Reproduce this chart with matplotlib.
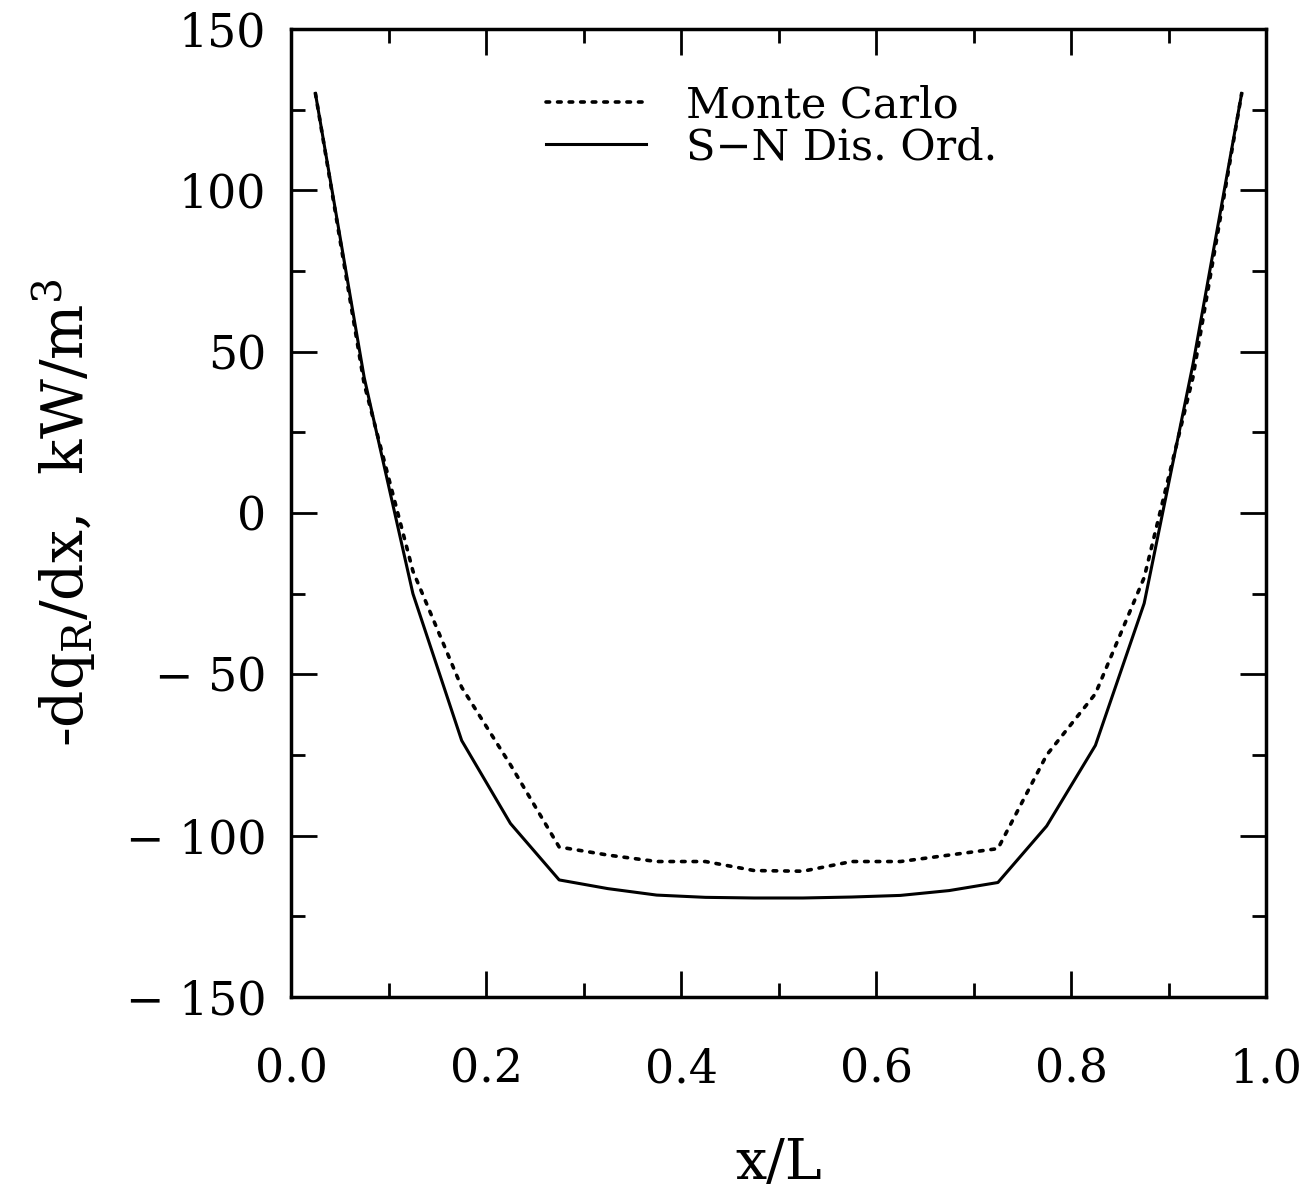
import numpy as np
import matplotlib
matplotlib.use("Agg")
import matplotlib.pyplot as plt
from matplotlib.ticker import MultipleLocator

# cell centres x/L
x_pos = [0.025, 0.075, 0.125, 0.175, 0.225, 0.275, 0.325, 0.375, 0.425, 0.475,
         0.525, 0.575, 0.625, 0.675, 0.725, 0.775, 0.825, 0.875, 0.925, 0.975]
# Monte Carlo (dotted)
mc = [130, 40, -18, -54, -78, -103.5, -106, -108, -108, -110.8,
      -111, -108, -108, -106, -104, -75, -56, -20, 42, 130]
# S-N discrete ordinates (solid)
sn = [130, 42, -25, -70.5, -96.2, -113.7, -116.4, -118.4, -119.1, -119.3,
      -119.3, -119, -118.5, -117, -114.5, -97, -72, -28, 46, 130]

xticks = [0.0, 0.2, 0.4, 0.6, 0.8, 1.0]
xtick_labels = ["0.0", "0.2", "0.4", "0.6", "0.8", "1.0"]
yticks = [150, 100, 50, 0, -50, -100, -150]
ytick_labels = ["150", "100", "50", "0", "\u2212 50", "\u2212 100", "\u2212 150"]

plt.rcParams['font.family'] = ['DejaVu Serif']
plt.rcParams['mathtext.fontset'] = 'dejavuserif'

fig = plt.figure(figsize=(13.14, 12.02), dpi=100)
ax = fig.add_axes([0.2215, 0.1705, 0.742, 0.8054])

ax.plot(x_pos, mc, color='black', lw=2.6, linestyle=(0, (1, 2.2)),
        dash_capstyle='round', label='Monte Carlo')
ax.plot(x_pos, sn, color='black', lw=2.2, linestyle='-', label='S\u2212N Dis. Ord.')

ax.set_xlim(0, 1)
ax.set_ylim(-150, 150)
ax.set_xticks(xticks)
ax.set_xticklabels(xtick_labels)
ax.set_yticks(yticks)
ax.set_yticklabels(ytick_labels)
ax.xaxis.set_minor_locator(MultipleLocator(0.1))
ax.yaxis.set_minor_locator(MultipleLocator(25))

ax.tick_params(which='both', direction='in', top=True, right=True, width=2.0,
               labelsize=33)
ax.tick_params(which='major', length=19)
ax.tick_params(which='minor', length=10)
ax.tick_params(axis='x', which='major', pad=36)
ax.tick_params(axis='y', which='major', pad=18)
for s in ax.spines.values():
    s.set_linewidth(2.5)

ax.set_xlabel('x/L', fontsize=40, labelpad=32)
ax.set_ylabel(r'-dq$_\mathregular{R}$/dx,  kW/m$^\mathregular{3}$', fontsize=42,
              labelpad=20)

leg = ax.legend(loc='upper left', bbox_to_anchor=(0.262, 0.943), frameon=False,
                fontsize=31, handlelength=2.3, handletextpad=0.95,
                labelspacing=0.0, borderpad=0, borderaxespad=0)

fig.savefig('out.png', dpi=100)
